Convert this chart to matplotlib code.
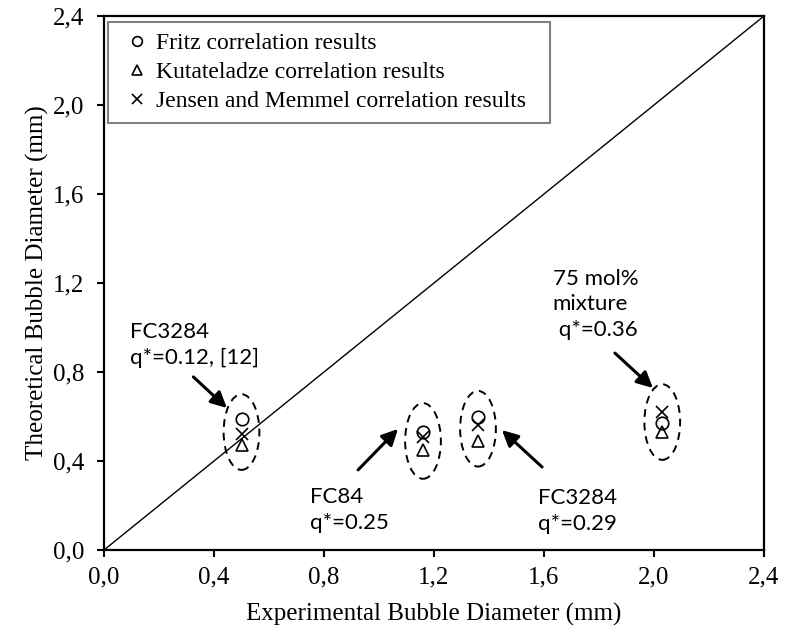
import matplotlib
matplotlib.use("Agg")
import matplotlib.pyplot as plt
from matplotlib.patches import Ellipse
from matplotlib.lines import Line2D

# experimental vs. predicted bubble departure diameters (mm)
exp_d = [0.50, 1.16, 1.36, 2.03]
fritz = [0.59, 0.53, 0.60, 0.57]
kutateladze = [0.47, 0.45, 0.49, 0.53]
jensen = [0.52, 0.51, 0.56, 0.62]

case_labels = ["FC3284\nq*=0.12, [12]",
               "FC84\nq*=0.25",
               "FC3284\nq*=0.29",
               "75 mol%\nmixture\n q*=0.36"]
# baseline of the last line of each label
label_pos = [(0.094, 0.836), (0.749, 0.094), (1.578, 0.090), (1.632, 0.962)]
arrow_tail = [(0.325, 0.778), (0.924, 0.36), (1.593, 0.373), (1.858, 0.885)]
arrow_head = [(0.447, 0.638), (1.069, 0.544), (1.447, 0.539), (1.996, 0.728)]

ticks = [0.0, 0.4, 0.8, 1.2, 1.6, 2.0, 2.4]
tick_labels = ["0,0", "0,4", "0,8", "1,2", "1,6", "2,0", "2,4"]

serif = "Liberation Serif"
sans = "Lato"

fig = plt.figure(figsize=(7.85, 6.35), dpi=100)
ax = fig.add_axes([104 / 785, 1 - 550 / 635, 660 / 785, 534 / 635])

ax.plot([0, 2.4], [0, 2.4], color="black", lw=1.0)

mk = dict(ls="none", color="black", ms=9, mfc="none", mew=1.2)
ax.plot(exp_d, fritz, marker="o", **mk)
ax.plot(exp_d, kutateladze, marker="^", **mk)
ax.plot(exp_d, jensen, marker="x", **mk)

# dashed ellipse around each group of predictions
for x, a, b, c in zip(exp_d, fritz, kutateladze, jensen):
    yc = (max(a, b, c) + min(a, b, c)) / 2
    ax.add_patch(Ellipse((x, yc), 0.13, 0.34, fill=False, ls=(0, (4, 3)),
                         lw=1.4, color="black"))

for txt, pos, tail, head in zip(case_labels, label_pos, arrow_tail, arrow_head):
    ax.text(pos[0], pos[1], txt, fontsize=16, family=sans, ha="left",
            va="baseline", linespacing=1.35)
    ax.annotate("", xy=head, xytext=tail,
                arrowprops=dict(arrowstyle="-|>", color="black", lw=2.2,
                                mutation_scale=24, shrinkA=0, shrinkB=0))

ax.set_xlim(0, 2.4)
ax.set_ylim(0, 2.4)
ax.set_xticks(ticks)
ax.set_xticklabels(tick_labels)
ax.set_yticks(ticks)
ax.set_yticklabels(tick_labels)
ax.tick_params(direction="out", length=5, width=1.5, labelsize=18)
ax.tick_params(axis="y", pad=9)
ax.tick_params(axis="x", pad=7)
for lab in ax.get_xticklabels() + ax.get_yticklabels():
    lab.set_family(serif)
for s in ax.spines.values():
    s.set_linewidth(1.6)

ax.set_xlabel("Experimental Bubble Diameter (mm)", family=serif, fontsize=18,
              labelpad=10)
ax.set_ylabel("Theoretical Bubble Diameter (mm)", family=serif, fontsize=18,
              labelpad=3)

handles = [
    Line2D([], [], marker="o", **dict(mk, ms=7)),
    Line2D([], [], marker="^", **dict(mk, ms=7)),
    Line2D([], [], marker="x", **dict(mk, ms=7)),
]
names = ["Fritz correlation results",
         "Kutateladze correlation results",
         "Jensen and Memmel correlation results"]
leg = ax.legend(handles, names, loc="upper left", mode="expand",
                bbox_to_anchor=(0.006, 0.0, 0.67, 0.989),
                prop={"family": serif, "size": 17}, handlelength=1.6,
                handletextpad=0.0, labelspacing=0.32, borderpad=0.45,
                borderaxespad=0, fancybox=False, framealpha=1)
leg.get_frame().set_edgecolor("#808080")
leg.get_frame().set_linewidth(1.5)

fig.savefig("out.png", dpi=100)
